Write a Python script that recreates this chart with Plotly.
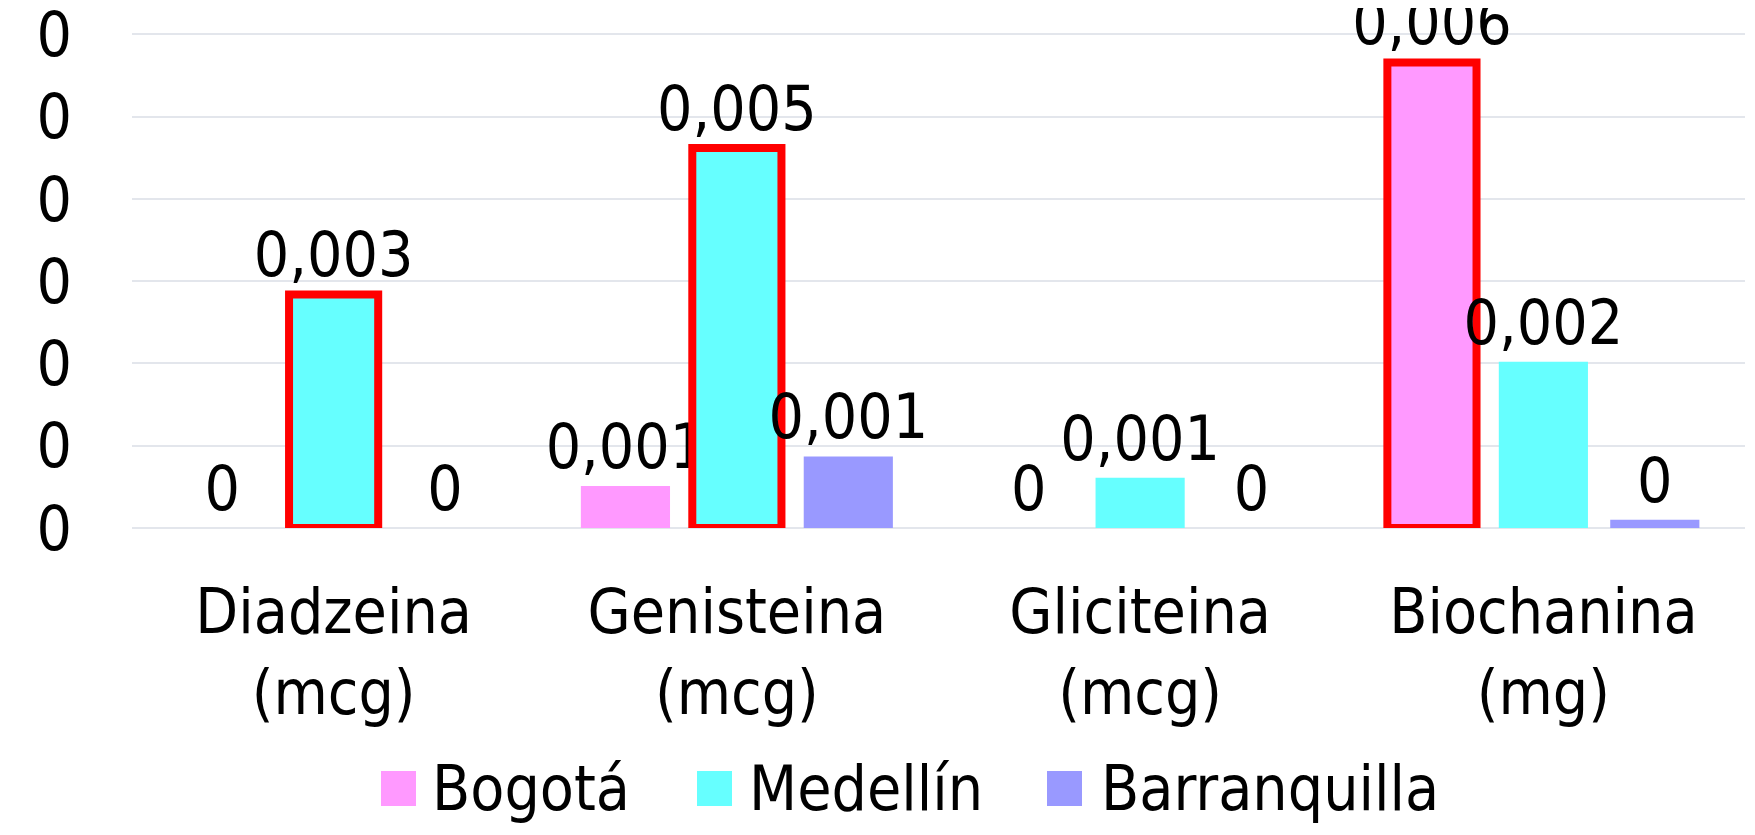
import plotly.graph_objects as go

categories = ["Diadzeina<br>(mcg)", "Genisteina<br>(mcg)", "Gliciteina<br>(mcg)", "Biochanina<br>(mg)"]
series_names = ["Bogotá", "Medellín", "Barranquilla"]
bogota = [0.0, 0.00051, 0.0, 0.00566]
medellin = [0.00284, 0.00462, 0.00061, 0.00202]
barranquilla = [0.0, 0.00087, 0.0, 0.0001]
highlight_bogota = [False, False, False, True]
highlight_medellin = [True, True, False, False]
highlight_barranquilla = [False, False, False, False]
colors = ["#ff99ff", "#66ffff", "#9999ff"]
y_ticks = [0, 0.001, 0.002, 0.003, 0.004, 0.005, 0.006]

FONT = "DejaVu Sans Condensed, Liberation Sans Narrow, DejaVu Sans, sans-serif"
FS = 62

# page body has an 8px margin; size the figure so it fills the window exactly
OFF = 8
W, H = 1755 - OFF, 835 - OFF
ML, MR, MT, MB = 132 - OFF, 10, 32 - OFF, 307
PW, PH = W - ML - MR, H - MT - MB


def px_to_paper_x(px):
    return (px - OFF - ML) / PW


def px_to_paper_y(py):
    return (H - MB - (py - OFF)) / PH


def label(v):
    s = f"{v:.3f}".rstrip("0").rstrip(".")
    return s.replace(".", ",")


fig = go.Figure()
for name, vals, hl, col in zip(series_names, [bogota, medellin, barranquilla],
                               [highlight_bogota, highlight_medellin, highlight_barranquilla], colors):
    fig.add_trace(go.Bar(
        x=categories, y=vals, name=name,
        marker=dict(color=col,
                    line=dict(color=["#ff0000" if h else col for h in hl],
                              width=[8 if h else 0 for h in hl])),
        text=[label(v) for v in vals],
        textposition="outside",
        textfont=dict(family=FONT, size=FS, color="#000000"),
        constraintext="none",
        cliponaxis=False,
        showlegend=False,
    ))

# manual legend with large swatches (page-pixel layout converted to paper coords)
swatch_left_px = [381, 697, 1047]
text_left_px = [430, 747, 1099]
for name, col, sx, tx in zip(series_names, colors, swatch_left_px, text_left_px):
    fig.add_shape(type="rect", xref="paper", yref="paper",
                  x0=px_to_paper_x(sx), x1=px_to_paper_x(sx + 35),
                  y0=px_to_paper_y(806), y1=px_to_paper_y(771),
                  fillcolor=col, line=dict(width=0))
    fig.add_annotation(xref="paper", yref="paper", x=px_to_paper_x(tx), y=px_to_paper_y(788),
                       text=name, showarrow=False, xanchor="left", yanchor="middle",
                       font=dict(family=FONT, size=FS, color="#000000"))

fig.update_layout(
    width=W, height=H,
    margin=dict(l=ML, r=MR, t=MT, b=MB),
    plot_bgcolor="white", paper_bgcolor="white",
    barmode="group", bargap=0.171, bargroupgap=0.2,
    font=dict(family=FONT, size=FS, color="#000000"),
)
fig.update_yaxes(range=[0, 0.00603], tickvals=y_ticks, tickformat=".0f",
                 showgrid=True, gridcolor="#e3e6ec", gridwidth=2,
                 zeroline=True, zerolinecolor="#e3e6ec", zerolinewidth=2,
                 ticklabelstandoff=59, showline=False, automargin=False,
                 ticklabeloverflow="allow",
                 tickfont=dict(family=FONT, size=FS, color="#000000"))
fig.update_xaxes(showgrid=False, showline=False, ticks="",
                 ticklabelstandoff=42, automargin=False,
                 tickfont=dict(family=FONT, size=FS, color="#000000"))

fig.write_html("out.html")
